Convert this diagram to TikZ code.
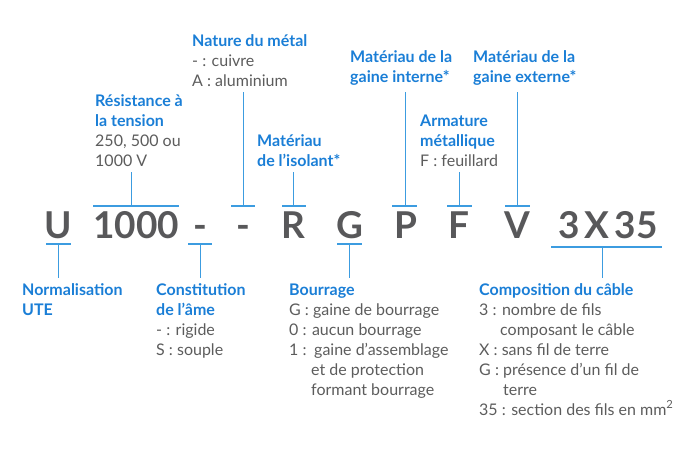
\documentclass[tikz,border=0pt]{standalone}
\usepackage{fontspec}
\setmainfont{Lato}
\usetikzlibrary{calc}
\definecolor{lblue}{HTML}{1A7ED6}
\definecolor{lnblue}{HTML}{3C9CE0}
\definecolor{tgrey}{HTML}{5C5C5C}
\definecolor{cgrey}{HTML}{58585A}
\newcommand\mlines[1]{\vtop{\baselineskip=20pt\lineskiplimit=-20pt\lineskip=0pt #1}}
\newcommand\hd[1]{\hbox{\bfseries\color{lblue}#1}}
\newcommand\tx[1]{\hbox{\color{tgrey}#1}}
\tikzset{
  code/.style={anchor=base, inner sep=0pt, font=\fontsize{37}{37}\selectfont\bfseries, text=cgrey},
  lbl/.style={anchor=base west, inner sep=0pt, font=\fontsize{16}{20}\selectfont},
  bar/.style={draw=lnblue, line width=1.3pt},
  stem/.style={draw=lnblue, line width=1pt}
}
\begin{document}
\begin{tikzpicture}[x=1pt,y=-1pt]
\useasboundingbox (0,0) rectangle (700,450);
% code letters
\node[code] (cU) at (58,238) {U};
\node[code] (c1000) at (136,238) {1000};
\node[code] (cd1) at (200,238) {-};
\node[code] (cd2) at (243,238) {-};
\node[code] (cR) at (293,238) {R};
\node[code] (cG) at (350,238) {G};
\node[code] (cP) at (406,238) {P};
\node[code] (cF) at (459,238) {F};
\node[code] (cV) at (517,238) {V};
\node[code] (c335) at (608,238) {3\hspace{5pt}X\hspace{5pt}35};
% labels bottom
\node[lbl] (lU) at (22,295) {\mlines{\hd{Normalisation}\hd{UTE}}};
\node[lbl] (lame) at (156,295) {\mlines{\hd{Constitution}\hd{de l’âme}\tx{- : rigide}\tx{S : souple}}};
\node[lbl] (lbour) at (289,295) {\mlines{\hd{Bourrage}\tx{G : gaine de bourrage}\tx{0 : aucun bourrage}\tx{\hbox to 25pt{1 :\hfil}gaine d’assemblage}\tx{\hspace*{22pt}et de protection}\tx{\hspace*{22pt}formant bourrage}}};
\node[lbl] (lcomp) at (479,295) {\mlines{\hd{Composition du câble}\tx{3 : nombre de fils}\tx{\hspace*{21pt}composant le câble}\tx{X : sans fil de terre}\tx{G : présence d’un fil de}\tx{\hspace*{24pt}terre}\tx{35 : section des fils en mm\textsuperscript{2}}}};
% labels top
\node[lbl] (lmet) at (192,46) {\mlines{\hd{Nature du métal}\tx{- : cuivre}\tx{A : aluminium}}};
\node[lbl] (lres) at (95,106) {\mlines{\hd{Résistance à}\hd{la tension}\tx{250, 500 ou}\tx{1000 V}}};
\node[lbl] (liso) at (257,146) {\mlines{\hd{Matériau}\hd{de l’isolant*}}};
\node[lbl] (lint) at (350,62) {\mlines{\hd{Matériau de la}\hd{gaine interne*}}};
\node[lbl] (lext) at (473,62) {\mlines{\hd{Matériau de la}\hd{gaine externe*}}};
\node[lbl] (larm) at (420,126) {\mlines{\hd{Armature}\hd{métallique}\tx{F : feuillard}}};
% bar coordinates
\coordinate (bUa) at (46,244); \coordinate (bUb) at (71,244); \coordinate (sU) at (58,278);
\coordinate (b1a) at (93,206); \coordinate (b1b) at (179,206); \coordinate (s1) at (131,172);
\coordinate (bd1a) at (188,244); \coordinate (bd1b) at (212,244); \coordinate (sd1) at (200,278);
\coordinate (bd2a) at (231,206); \coordinate (bd2b) at (255,206); \coordinate (sd2) at (243,92);
\coordinate (bRa) at (282,206); \coordinate (bRb) at (306,206); \coordinate (sR) at (293,172);
\coordinate (bGa) at (337,244); \coordinate (bGb) at (362,244); \coordinate (sG) at (349,278);
\coordinate (bPa) at (392,206); \coordinate (bPb) at (417,206); \coordinate (sP) at (405,92);
\coordinate (bFa) at (447,206); \coordinate (bFb) at (472,206); \coordinate (sF) at (459,172);
\coordinate (bVa) at (505,206); \coordinate (bVb) at (530,206); \coordinate (sV) at (517,92);
\coordinate (bCa) at (551,247); \coordinate (bCb) at (662,247); \coordinate (sC) at (602,278);
% bars and stems
\foreach \a/\b/\s in {bUa/bUb/sU, b1a/b1b/s1, bd1a/bd1b/sd1, bd2a/bd2b/sd2, bRa/bRb/sR, bGa/bGb/sG, bPa/bPb/sP, bFa/bFb/sF, bVa/bVb/sV, bCa/bCb/sC}{
  \path[bar] (\a) -- (\b);
  \path[stem] (\s |- \a) -- (\s);
}
\end{tikzpicture}
\end{document}
